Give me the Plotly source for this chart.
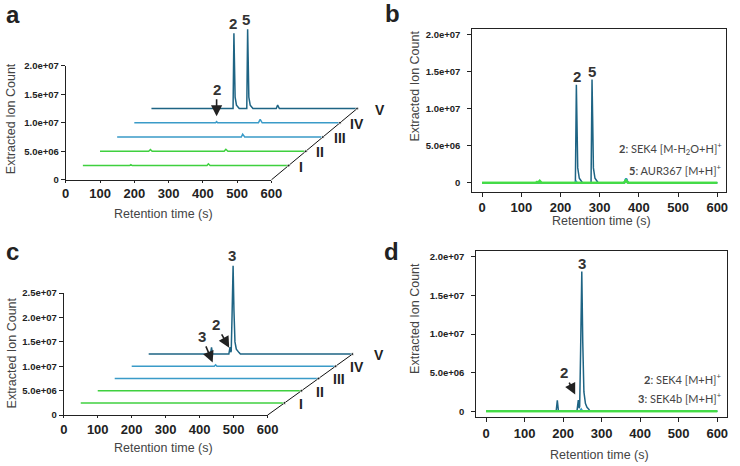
import plotly.graph_objects as go

W, H = 740, 466

# ---------------- data ----------------
strain_labels = ["I", "II", "III", "IV", "V"]

# Panels a / b : SEK4 [M-H2O+H]+ and AUR367 [M+H]+ extracted ion chromatograms
ab_t_I = [0, 136, 140, 144, 362, 366, 371, 448, 452, 456, 600]
ab_y_I = [0, 0, 1.5e5, 0, 0, 3.0e5, 0, 0, 1.0e5, 0, 0]
ab_t_II = [0, 142, 147, 152, 362, 367, 373, 600]
ab_y_II = [0, 0, 3.0e5, 0, 0, 3.5e5, 0, 0]
ab_t_III = [0, 362, 366, 372, 600]
ab_y_III = [0, 0, 5.0e5, 0, 0]
ab_t_IV = [0, 237, 240, 243, 362, 367, 373, 600]
ab_y_IV = [0, 0, 2.0e5, 0, 0, 6.0e5, 0, 0]
ab_t_V = [0, 238, 240.5, 242, 244, 248, 252, 256, 278, 280.5, 282, 284, 288, 292, 296, 364, 368, 373, 600]
ab_y_V = [0, 0, 1.32e7, 9.0e6, 2.0e6, 6.0e5, 3.0e5, 0, 0, 1.39e7, 9.0e6, 2.0e6, 6.0e5, 3.0e5, 0, 0, 6.0e5, 0, 0]

# Panels c / d : SEK4 [M+H]+ and SEK4b [M+H]+ extracted ion chromatograms
cd_t_I = [0, 600]
cd_y_I = [0, 0]
cd_t_II = [0, 600]
cd_y_II = [0, 0]
cd_t_III = [0, 600]
cd_y_III = [0, 0]
cd_t_IV = [0, 243, 247, 251, 600]
cd_y_IV = [0, 0, 3.0e5, 0, 0]
cd_t_V = [0, 182, 185, 188, 236, 239.5, 241.5, 243, 245.5, 248.5, 251, 254, 258, 262, 266, 270, 600]
cd_y_V = [0, 0, 1.4e6, 0, 0, 1.45e6, 4.0e5, 6.0e5, 8.0e6, 1.81e7, 9.0e6, 2.5e6, 1.0e6, 5.0e5, 3.0e5, 0, 0]

x_tickvals = [0, 100, 200, 300, 400, 500, 600]
x_ticktext = ["0", "100", "200", "300", "400", "500", "600"]
y_tickvals_20 = [0, 5e6, 1e7, 1.5e7, 2e7]
y_ticktext_20 = ["0", "5.0e+06", "1.0e+07", "1.5e+07", "2.0e+07"]
y_tickvals_25 = [0, 5e6, 1e7, 1.5e7, 2e7, 2.5e7]
y_ticktext_25 = ["0", "5.0e+06", "1.0e+07", "1.5e+07", "2.0e+07", "2.5e+07"]

legend_b = ["<b>2</b>: SEK4 [M-H<sub>2</sub>O+H]<sup>+</sup>", "<b>5</b>: AUR367 [M+H]<sup>+</sup>"]
legend_d = ["<b>2</b>: SEK4 [M+H]<sup>+</sup>", "<b>3</b>: SEK4b [M+H]<sup>+</sup>"]

# ---------------- style ----------------
C_DARK = "#1e6484"
C_LIGHT = "#3a9bc8"
C_GREEN = "#3fd03f"
C_GREEN2 = "#44dd44"
colors = [C_GREEN, C_GREEN, C_LIGHT, C_LIGHT, C_DARK]
FONT = "Liberation Sans"
STEP_T = 50        # waterfall x shift (s)
STEP_Y = 2.5e6     # waterfall y shift

ab_series = [(ab_t_I, ab_y_I), (ab_t_II, ab_y_II), (ab_t_III, ab_y_III), (ab_t_IV, ab_y_IV), (ab_t_V, ab_y_V)]
cd_series = [(cd_t_I, cd_y_I), (cd_t_II, cd_y_II), (cd_t_III, cd_y_III), (cd_t_IV, cd_y_IV), (cd_t_V, cd_y_V)]


def dom_x(p0, p1):
    return [p0 / W, p1 / W]


def dom_y(ptop, pbot):
    return [1 - pbot / H, 1 - ptop / H]


fig = go.Figure()

# empty traces so the waterfall tick-axis frames get drawn
for xa, ya in [("x2", "y2"), ("x5", "y5")]:
    fig.add_trace(go.Scatter(x=[None], y=[None], mode="lines", xaxis=xa, yaxis=ya,
                             showlegend=False, hoverinfo="skip"))

# waterfall panels
for series, xa, ya in [(ab_series, "x", "y"), (cd_series, "x4", "y4")]:
    for k in range(4, -1, -1):
        t, v = series[k]
        fig.add_trace(go.Scatter(
            x=[ti + STEP_T * (k + 1) for ti in t],
            y=[vi + STEP_Y * (k + 1) for vi in v],
            mode="lines", line=dict(color=colors[k], width=1.5),
            xaxis=xa, yaxis=ya, showlegend=False, hoverinfo="skip"))
    diag_x = [600] + [600 + STEP_T * (k + 1) for k in range(5)]
    diag_y = [0] + [STEP_Y * (k + 1) for k in range(5)]
    fig.add_trace(go.Scatter(
        x=diag_x, y=diag_y, mode="lines+markers",
        line=dict(color="#111", width=1),
        marker=dict(size=[0, 3, 3, 3, 3, 3], color="#111"),
        xaxis=xa, yaxis=ya, showlegend=False, hoverinfo="skip"))

# overlay panels
for series, xa, ya in [(ab_series, "x3", "y3"), (cd_series, "x6", "y6")]:
    for k in [4, 3, 2, 1, 0]:
        t, v = series[k]
        col = C_GREEN2 if k < 2 else colors[k]
        wid = 2 if k < 2 else 1.5
        fig.add_trace(go.Scatter(
            x=t, y=v, mode="lines", line=dict(color=col, width=wid),
            xaxis=xa, yaxis=ya, showlegend=False, hoverinfo="skip"))

hidden = dict(visible=False, showgrid=False, zeroline=False, fixedrange=True)
tickfont_x = dict(family=FONT, size=13, color="#222", weight="bold")
tickfont_y = dict(family=FONT, size=9.5, color="#222", weight="bold")


def tick_x(**kw):
    d = dict(showline=True, linecolor="#222", linewidth=1, ticks="outside", ticklen=4,
             tickcolor="#222", tickvals=x_tickvals, ticktext=x_ticktext, tickfont=tickfont_x,
             showgrid=False, zeroline=False, fixedrange=True)
    d.update(kw)
    return d


def tick_y(**kw):
    d = dict(showline=True, linecolor="#222", linewidth=1, ticks="outside", ticklen=4,
             tickcolor="#222", tickfont=tickfont_y, showgrid=False, zeroline=False, fixedrange=True)
    d.update(kw)
    return d


fig.update_layout(
    width=W, height=H, margin=dict(l=0, r=0, t=0, b=0),
    paper_bgcolor="white", plot_bgcolor="rgba(0,0,0,0)",
    showlegend=False,
    # panel a
    xaxis=dict(domain=dom_x(56, 371), range=[-20, 880], anchor="y", **hidden),
    yaxis=dict(domain=dom_y(8.64, 183.84), range=[-1e6, 2.9e7], anchor="x", **hidden),
    xaxis2=tick_x(domain=dom_x(63, 273), range=[0, 600], anchor="y2", ticklen=2),
    yaxis2=tick_y(domain=dom_y(61.2, 178), range=[0, 2e7], anchor="x2",
                  tickvals=y_tickvals_20, ticktext=y_ticktext_20),
    # panel b
    xaxis3=tick_x(domain=dom_x(478, 737), range=[-25, 622.5], anchor="y3", mirror=True),
    yaxis3=tick_y(domain=dom_y(24, 190), range=[-1.184e6, 2.0658e7], anchor="x3", mirror=True,
                  tickvals=y_tickvals_20, ticktext=y_ticktext_20, ticklabelstandoff=5),
    # panel c
    xaxis4=dict(domain=dom_x(54.07, 366.1), range=[-20, 880], anchor="y4", **hidden),
    yaxis4=dict(domain=dom_y(254, 424), range=[-1e6, 3.3e7], anchor="x4", **hidden),
    xaxis5=tick_x(domain=dom_x(61, 269), range=[0, 600], anchor="y5", ticklen=2),
    yaxis5=tick_y(domain=dom_y(294, 419), range=[0, 2.5e7], anchor="x5",
                  tickvals=y_tickvals_25, ticktext=y_ticktext_25),
    # panel d
    xaxis6=tick_x(domain=dom_x(482, 738), range=[-25.4, 625.4], anchor="y6", mirror=True),
    yaxis6=tick_y(domain=dom_y(251, 421), range=[-0.76e6, 2.076e7], anchor="x6", mirror=True,
                  tickvals=y_tickvals_20, ticktext=y_ticktext_20, ticklabelstandoff=5),
)

ann = []


def paper_text(px, py, text, size, color="#333", bold=False, angle=0, family=FONT, xanchor="center"):
    ann.append(dict(x=px / W, y=1 - py / H, xref="paper", yref="paper", text=text,
                    showarrow=False, textangle=angle, xanchor=xanchor, yanchor="middle",
                    font=dict(family=family, size=size, color=color,
                              weight="bold" if bold else "normal")))


# panel letters
for (px, py, s) in [(9, 9, "a"), (397, 8, "b"), (9, 251, "c"), (396, 251, "d")]:
    paper_text(px, py, s, 24, color="#222", bold=True)

# axis titles
for (px, py) in [(7, 115), (420, 82), (8, 355), (420, 320)]:
    paper_text(px, py, "Extracted Ion Count", 12.5, color="#444", angle=-90)
for (px, py) in [(163, 213), (610, 220), (163, 453), (608, 460)]:
    paper_text(px, py, "Retention time (s)", 12.5, color="#444")

# strain labels at the end of each waterfall trace
for xa, ya, shifts in [("x", "y", [10, 10, 11, 10, 18]), ("x4", "y4", [14, 14, 14, 14, 22])]:
    for k, lab in enumerate(strain_labels):
        ann.append(dict(x=600 + STEP_T * (k + 1), y=STEP_Y * (k + 1), xref=xa, yref=ya,
                        text=lab, showarrow=False, xanchor="left", yanchor="middle",
                        xshift=shifts[k] - 2, yshift=-1,
                        font=dict(family=FONT, size=14, color="#222", weight="bold")))

peakfont = dict(family=FONT, size=15, color="#333", weight="bold")
# peak labels
for xa, ya, x, y, t in [("x", "y", 489, 2.74e7, "2"), ("x", "y", 526, 2.81e7, "5"),
                        ("x3", "y3", 242.5, 1.434e7, "2"), ("x3", "y3", 280, 1.50e7, "5"),
                        ("x4", "y4", 496, 3.26e7, "3"),
                        ("x6", "y6", 249, 1.92e7, "3")]:
    ann.append(dict(x=x, y=y, xref=xa, yref=ya, text=t, showarrow=False, font=peakfont,
                    xanchor="center", yanchor="middle"))

# arrows
for xa, ya, x, y, ax, ay, t in [("x", "y", 440, 1.113e7, 0, -27, "2"),
                                ("x4", "y4", 487, 1.38e7, -13, -23, "2"),
                                ("x4", "y4", 438.4, 1.08e7, -11, -26, "3"),
                                ("x6", "y6", 231.4, 2.15e6, -11, -22, "2")]:
    ann.append(dict(x=x, y=y, xref=xa, yref=ya, text=t, showarrow=True, ax=ax, ay=ay,
                    arrowhead=2, arrowsize=1.4, arrowwidth=1.6, arrowcolor="#222",
                    standoff=0, font=peakfont))

# compound legends
for py, txt in zip([146, 167], legend_b):
    paper_text(735, py, txt, 11, color="#444", family="Lato", xanchor="right")
for py, txt in zip([381, 401], legend_d):
    paper_text(735, py, txt, 11, color="#444", family="Lato", xanchor="right")

fig.update_layout(annotations=ann)
fig.write_html("out.html", post_script="document.body.style.margin='0px';",
               config={"displayModeBar": False})
